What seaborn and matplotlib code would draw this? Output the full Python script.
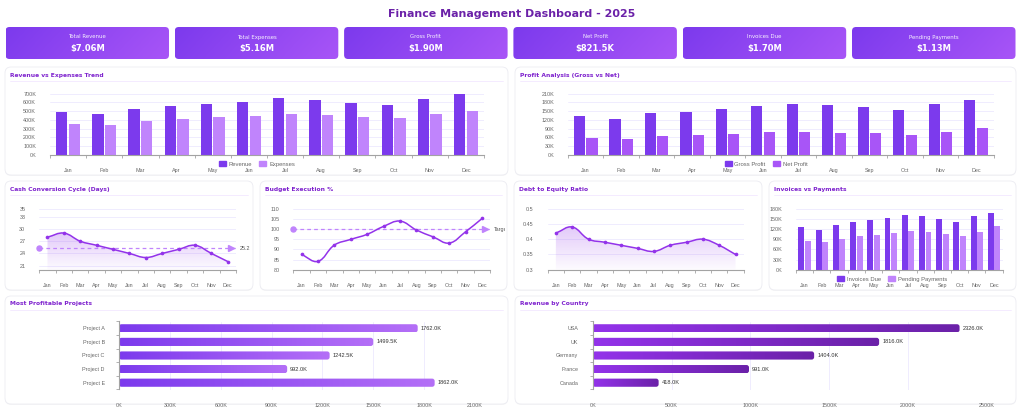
import numpy as np
import pandas as pd
import matplotlib
matplotlib.use("Agg")
import matplotlib.pyplot as plt
import seaborn as sns
from matplotlib.patches import FancyBboxPatch, PathPatch, Patch
from matplotlib.path import Path
from matplotlib.colors import LinearSegmentedColormap, to_rgb
from matplotlib.ticker import FuncFormatter
from matplotlib.transforms import Bbox, TransformedBbox

# ==================================================
# Data (money values in thousands)
# ==================================================
months = ["Jan", "Feb", "Mar", "Apr", "May", "Jun",
          "Jul", "Aug", "Sep", "Oct", "Nov", "Dec"]

kpi_labels = ["Total Revenue", "Total Expenses", "Gross Profit",
              "Net Profit", "Invoices Due", "Pending Payments"]
kpi_values = ["$7.06M", "$5.16M", "$1.90M", "$821.5K", "$1.70M", "$1.13M"]

revenue = [485, 465, 530, 555, 585, 610, 645, 625, 595, 570, 635, 695]
expenses = [352, 337, 387, 406, 429, 444, 471, 456, 433, 418, 464, 506]

gross_profit = [132, 124, 142, 148, 156, 166, 176, 170, 163, 154, 173, 189]
net_profit = [58, 53, 65, 67, 70, 77, 79, 75, 73, 68, 78, 92]

cash_cycle = [28, 29, 27, 26, 25, 24, 23, 24, 25, 26, 24, 22]
budget_exec = [87.5, 84.1, 92.1, 94.9, 97.4, 101.3, 103.9, 99.5, 96.2, 93.1, 98.7, 105.2]
budget_target = 100
debt_equity = [0.42, 0.44, 0.40, 0.39, 0.38, 0.37, 0.36, 0.38, 0.39, 0.40, 0.38, 0.35]

invoices_due = [125, 118, 132, 141, 147, 154, 161, 157, 150, 142, 158, 167]
pending_payments = [85, 82, 91, 98, 102, 108, 114, 110, 104, 99, 112, 128]

projects = ["Project A", "Project B", "Project C", "Project D", "Project E"]
project_profit = [1762.0, 1499.5, 1242.5, 992.0, 1862.0]

countries = ["USA", "UK", "Germany", "France", "Canada"]
country_revenue = [2326.0, 1816.0, 1404.0, 991.0, 418.0]

# ==================================================
# Settings
# ==================================================
sns.set_theme(style="white")
plt.rcParams["font.family"] = ["Liberation Sans", "DejaVu Sans"]

DARK = "#7c3aed"
MID = "#a855f7"
LIGHT = "#c084fc"
LINE = "#9333ea"
TITLE_C = "#6b21a8"
HEAD_C = "#7e22ce"
GRID = "#ede9fe"
AXIS = "#a3a3a3"
TICK_C = "#666666"
TICK_FS = 3.9
BOLD_FONT = "DejaVu Sans"

W, H = 1024, 416
fig = plt.figure(figsize=(W / 100, H / 100), dpi=100)
fig.patch.set_facecolor("white")

# background layer in pixel coordinates (y down)
bg = fig.add_axes([0, 0, 1, 1], zorder=0)
bg.set_xlim(0, W)
bg.set_ylim(H, 0)
bg.set_autoscale_on(False)
bg.axis("off")


def rect(x0, y0, x1, y1):
    return [x0 / W, 1 - y1 / H, (x1 - x0) / W, (y1 - y0) / H]


def make_ax(x0, y0, x1, y1):
    ax = fig.add_axes(rect(x0, y0, x1, y1), zorder=2)
    ax.patch.set_alpha(0)
    return ax


def panel(x0, y0, x1, y1, title):
    shadow = FancyBboxPatch((x0, y0 + 1), x1 - x0, y1 - y0,
                            boxstyle="round,pad=0,rounding_size=6",
                            fc="black", ec="none", alpha=0.035)
    bg.add_patch(shadow)
    card = FancyBboxPatch((x0, y0), x1 - x0, y1 - y0,
                          boxstyle="round,pad=0,rounding_size=6",
                          fc="white", ec="#ececf2", lw=0.6)
    bg.add_patch(card)
    bg.text(x0 + 5, y0 + 8, title, fontsize=4.3, fontweight="bold",
            color=HEAD_C, va="center", ha="left", family=BOLD_FONT)
    bg.plot([x0 + 5, x1 - 5], [y0 + 14, y0 + 14], color="#f3e8ff", lw=0.6)


def style_month_axis(ax, ylim, yticks, fmt):
    n = len(months)
    ax.set_xlim(-0.5, n - 0.5)
    ax.set_ylim(*ylim)
    ax.set_xticks(range(n))
    ax.set_xticklabels(months)
    ax.set_xticks(np.arange(-0.5, n), minor=True)
    ax.set_yticks(yticks)
    ax.yaxis.set_major_formatter(FuncFormatter(fmt))
    ax.tick_params(axis="x", which="major", bottom=False, pad=3.3,
                   labelsize=TICK_FS, labelcolor=TICK_C)
    ax.tick_params(axis="x", which="minor", bottom=True, length=2.5,
                   width=0.6, color=AXIS, direction="out")
    ax.tick_params(axis="y", left=False, pad=4, labelsize=TICK_FS,
                   labelcolor=TICK_C)
    ax.grid(axis="y", which="major", color=GRID, lw=0.6)
    ax.set_axisbelow(True)
    for s in ["top", "right", "left"]:
        ax.spines[s].set_visible(False)
    ax.spines["bottom"].set_color(AXIS)
    ax.spines["bottom"].set_linewidth(0.8)
    ax.set_xlabel("")
    ax.set_ylabel("")


def k_fmt(v, pos=None):
    return f"{int(round(v))}K"


def bar_legend(cx, cy, names, colors):
    handles = [Patch(fc=c, ec=c, label=n) for n, c in zip(names, colors)]
    fig.legend(handles=handles, loc="center", bbox_to_anchor=(cx / W, 1 - cy / H),
               ncol=2, frameon=False, fontsize=4.2, handlelength=1.2,
               handleheight=0.7, handletextpad=0.5, columnspacing=1.2,
               labelcolor="#666666", borderpad=0)


def grouped_bars(ax, a, b, names, colors, width):
    df = pd.DataFrame({
        "month": months * 2,
        "value": list(a) + list(b),
        "series": [names[0]] * len(a) + [names[1]] * len(b),
    })
    sns.barplot(data=df, x="month", y="value", hue="series", palette=colors,
                width=width, gap=0.1, saturation=1, errorbar=None,
                legend=False, linewidth=0, ax=ax)


def spline(ax, xs, ys, tension=0.4):
    pts = ax.transData.transform(np.column_stack([xs, ys]))
    n = len(pts)
    prev_cp, next_cp = [], []
    for i in range(n):
        p1 = pts[i]
        p0 = pts[i - 1] if i > 0 else p1
        p2 = pts[i + 1] if i < n - 1 else p1
        d01 = np.hypot(*(p1 - p0))
        d12 = np.hypot(*(p2 - p1))
        tot = d01 + d12
        s01 = d01 / tot if tot else 0
        s12 = d12 / tot if tot else 0
        prev_cp.append(p1 - tension * s01 * (p2 - p0))
        next_cp.append(p1 + tension * s12 * (p2 - p0))
    verts = [pts[0]]
    codes = [Path.MOVETO]
    for i in range(1, n):
        verts += [next_cp[i - 1], prev_cp[i], pts[i]]
        codes += [Path.CURVE4] * 3
    verts = ax.transData.inverted().transform(np.array(verts))
    return verts, codes


r, g, b = to_rgb(LINE)
fill_cmap = LinearSegmentedColormap.from_list("fill", [(r, g, b, 0.02), (r, g, b, 0.26)])


def smooth_line(ax, values, fill=False):
    xs = np.arange(len(values))
    ymin, ymax = ax.get_ylim()
    verts, codes = spline(ax, xs, values)
    if fill:
        fverts = np.vstack([verts, [[xs[-1], ymin], [xs[0], ymin], [xs[0], ymin]]])
        fcodes = codes + [Path.LINETO, Path.LINETO, Path.CLOSEPOLY]
        fp = PathPatch(Path(fverts, fcodes), fc="none", ec="none")
        ax.add_patch(fp)
        im = ax.imshow(np.linspace(1, 0, 100).reshape(-1, 1),
                       extent=(-0.5, len(values) - 0.5, ymin, max(values)),
                       cmap=fill_cmap, aspect="auto", origin="upper",
                       zorder=1, interpolation="bilinear")
        im.set_clip_path(fp)
    ax.add_patch(PathPatch(Path(verts, codes), fc="none", ec=LINE, lw=1.1,
                           zorder=3, capstyle="round"))
    sns.scatterplot(x=xs, y=values, color=LINE, s=7, linewidth=0,
                    ax=ax, zorder=4, legend=False)


def ref_line(ax, value, label):
    n = len(months)
    ax.plot([-0.5, n - 0.5], [value, value], color=LIGHT, lw=0.9,
            ls=(0, (3, 2.5)), zorder=2, clip_on=False)
    ax.plot([-0.5], [value], marker="o", ms=3.6, color=LIGHT, clip_on=False, zorder=5)
    ax.plot([n - 0.8], [value], marker=">", ms=5, color=LIGHT, clip_on=False, zorder=5)
    return ax.text(n - 0.3, value, label, fontsize=TICK_FS, color="#555555",
                   va="center", ha="left", clip_on=False)


def hbars(ax, names, values, xmax, step, c0, c1):
    sns.barplot(x=values, y=names, orient="h", width=0.6, color=c0,
                saturation=1, errorbar=None, ax=ax)
    n = len(names)
    ax.set_xlim(0, xmax)
    ax.set_ylim(n - 0.5, -0.5)
    ax.set_autoscale_on(False)
    bb = ax.get_window_extent()
    xpp = xmax / bb.width
    ypp = n / bb.height
    cmap = LinearSegmentedColormap.from_list("bar", [c0, c1])
    grad = np.linspace(0, 1, 256).reshape(1, -1)
    for bar in list(ax.patches):
        x, y, w, h = bar.get_x(), bar.get_y(), bar.get_width(), bar.get_height()
        bar.set_visible(False)
        shape = FancyBboxPatch((x, y), w, h,
                               boxstyle=f"round,pad=0,rounding_size={2.5 * xpp}",
                               mutation_aspect=ypp / xpp, fc="none", ec="none")
        ax.add_patch(shape)
        im = ax.imshow(grad, extent=(x, x + w, y + h, y), cmap=cmap,
                       aspect="auto", zorder=2, interpolation="bilinear")
        im.set_clip_path(shape)
        ax.text(x + w + 3 * xpp, y + h / 2, f"{w:.1f}K", fontsize=4.1,
                color="#333333", va="center", ha="left")
    ax.set_xticks(np.arange(0, xmax + 1, step))
    ax.xaxis.set_major_formatter(FuncFormatter(k_fmt))
    ax.set_yticks(range(n))
    ax.set_yticklabels(names)
    ax.set_yticks(np.arange(-0.5, n), minor=True)
    ax.tick_params(axis="x", bottom=False, pad=3.6, labelsize=TICK_FS, labelcolor=TICK_C)
    ax.tick_params(axis="y", which="major", left=False, pad=4.3,
                   labelsize=TICK_FS, labelcolor=TICK_C)
    ax.tick_params(axis="y", which="minor", left=True, length=2.5, width=0.6,
                   color=AXIS, direction="out")
    ax.grid(axis="x", color=GRID, lw=0.6)
    ax.set_axisbelow(True)
    for s in ["top", "right", "bottom"]:
        ax.spines[s].set_visible(False)
    ax.spines["left"].set_color(AXIS)
    ax.spines["left"].set_linewidth(0.8)
    ax.set_xlabel("")
    ax.set_ylabel("")


# ==================================================
# Title and KPI cards
# ==================================================
bg.text(512, 14, "Finance Management Dashboard - 2025", ha="center", va="center",
        fontsize=7.9, fontweight="bold", color=TITLE_C, family=BOLD_FONT)

kpi_cmap = LinearSegmentedColormap.from_list("kpi", [DARK, MID])
gx, gy = np.meshgrid(np.linspace(0, 1, 200), np.linspace(0, 1, 40))
kpi_grad = gx * 0.85 + gy * 0.15
for i, (lab, val) in enumerate(zip(kpi_labels, kpi_values)):
    x0 = 5.5 + i * 169.3
    x1 = x0 + 163.5
    y0, y1 = 27, 59
    card = FancyBboxPatch((x0, y0), x1 - x0, y1 - y0,
                          boxstyle="round,pad=0,rounding_size=4", fc="none", ec="none")
    bg.add_patch(card)
    im = bg.imshow(kpi_grad, extent=(x0, x1, y1, y0), cmap=kpi_cmap, aspect="auto",
                   zorder=1, interpolation="bilinear")
    im.set_clip_path(card)
    bg.text((x0 + x1) / 2, 37, lab, ha="center", va="center", fontsize=3.9,
            color="white", family=BOLD_FONT, alpha=0.92)
    bg.text((x0 + x1) / 2, 48, val, ha="center", va="center", fontsize=6.0,
            fontweight="bold", color="white", family=BOLD_FONT)

# ==================================================
# Panels
# ==================================================
panel(5, 67, 508, 175, "Revenue vs Expenses Trend")
panel(515, 67, 1016, 175, "Profit Analysis (Gross vs Net)")
panel(5, 181, 253, 290, "Cash Conversion Cycle (Days)")
panel(260, 181, 507, 290, "Budget Execution %")
panel(514, 181, 762, 290, "Debt to Equity Ratio")
panel(769, 181, 1016, 290, "Invoices vs Payments")
panel(5, 296, 508, 404, "Most Profitable Projects")
panel(515, 296, 1016, 404, "Revenue by Country")

# ==================================================
# Revenue vs Expenses
# ==================================================
ax = make_ax(50, 93.7, 484, 154.7)
grouped_bars(ax, revenue, expenses, ["Revenue", "Expenses"], [DARK, LIGHT], 0.7)
style_month_axis(ax, (0, 700), np.arange(0, 701, 100), k_fmt)
bar_legend(257, 164, ["Revenue", "Expenses"], [DARK, LIGHT])

# ==================================================
# Profit Analysis
# ==================================================
ax = make_ax(568, 93.7, 993.7, 154.7)
grouped_bars(ax, gross_profit, net_profit, ["Gross Profit", "Net Profit"], [DARK, MID], 0.7)
style_month_axis(ax, (0, 210), np.arange(0, 211, 30), k_fmt)
bar_legend(766, 164, ["Gross Profit", "Net Profit"], [DARK, MID])

# ==================================================
# Cash Conversion Cycle
# ==================================================
ax = make_ax(39.3, 208.7, 236, 269.7)
ax.set_xlim(-0.5, len(months) - 0.5)
ax.set_ylim(20, 35)
ax.set_autoscale_on(False)
smooth_line(ax, cash_cycle, fill=True)
avg_cycle = np.mean(cash_cycle)
ref_line(ax, avg_cycle, f"{avg_cycle:.1f}")
style_month_axis(ax, (20, 35), [21, 24, 27, 30, 33, 35], lambda v, p: f"{int(v)}")

# ==================================================
# Budget Execution
# ==================================================
ax = make_ax(293.3, 208.7, 490.3, 269.7)
ax.set_xlim(-0.5, len(months) - 0.5)
ax.set_ylim(80, 110)
ax.set_autoscale_on(False)
smooth_line(ax, budget_exec, fill=False)
t = ref_line(ax, budget_target, "Target")
t.set_clip_path(None)
t.set_clip_box(TransformedBbox(Bbox([[260, 181], [505, 290]]), bg.transData))
t.set_clip_on(True)
style_month_axis(ax, (80, 110), np.arange(80, 111, 5), lambda v, p: f"{int(v)}")

# ==================================================
# Debt to Equity
# ==================================================
ax = make_ax(547.7, 208.7, 743.7, 269.7)
ax.set_xlim(-0.5, len(months) - 0.5)
ax.set_ylim(0.3, 0.5)
ax.set_autoscale_on(False)
smooth_line(ax, debt_equity, fill=True)
style_month_axis(ax, (0.3, 0.5), [0.3, 0.35, 0.4, 0.45, 0.5], lambda v, p: f"{round(v, 2):g}")

# ==================================================
# Invoices vs Payments
# ==================================================
ax = make_ax(796, 208.7, 1002.7, 269.7)
grouped_bars(ax, invoices_due, pending_payments, ["Invoices Due", "Pending Payments"],
             [DARK, LIGHT], 0.76)
style_month_axis(ax, (0, 180), np.arange(0, 181, 30), k_fmt)
bar_legend(892, 279, ["Invoices Due", "Pending Payments"], [DARK, LIGHT])

# ==================================================
# Horizontal bars
# ==================================================
ax = make_ax(119, 321.5, 475, 389.5)
hbars(ax, projects, project_profit, 2100, 300, DARK, "#b46ff7")

ax = make_ax(592.7, 321.5, 987, 389.5)
hbars(ax, countries, country_revenue, 2500, 500, "#9333ea", "#6b21a8")

fig.savefig("out.png", dpi=100)
